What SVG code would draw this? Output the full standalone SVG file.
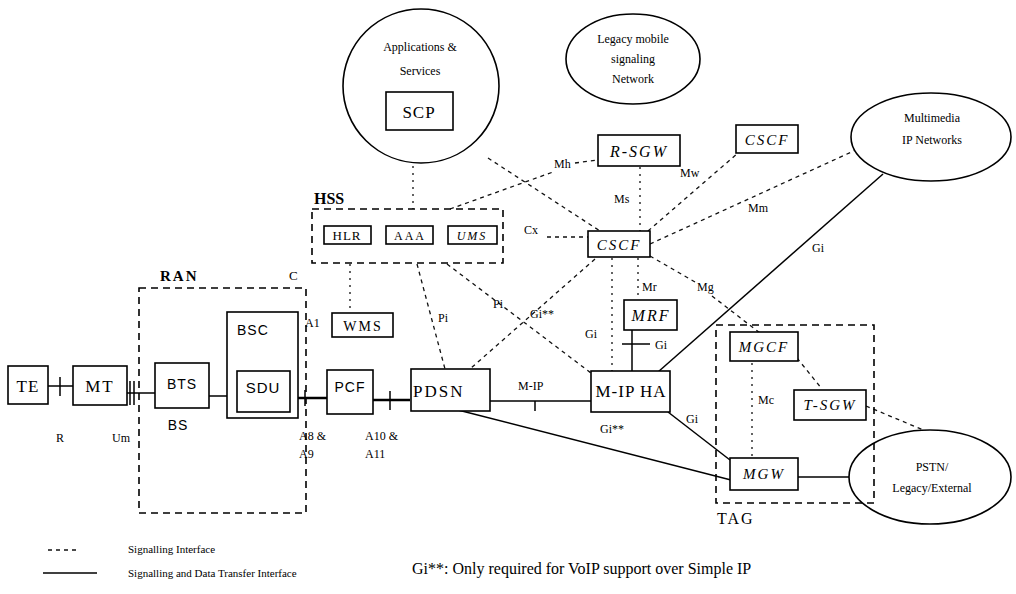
<svg xmlns="http://www.w3.org/2000/svg" width="1016" height="594" viewBox="0 0 1016 594">
<style>
.bg{fill:#fff}
.box{fill:#fff;stroke:#000;stroke-width:1.6}
.ell{fill:#fff;stroke:#000;stroke-width:1.6}
.grp{fill:none;stroke:#000;stroke-width:1.6;stroke-dasharray:7 5}
.sig{fill:none;stroke:#111;stroke-width:1.3;stroke-dasharray:4 4}
.dot{fill:none;stroke:#111;stroke-width:1.3;stroke-dasharray:2 5}
.dat{fill:none;stroke:#000;stroke-width:1.5}
.thk{fill:none;stroke:#000;stroke-width:2.6}
.s{font-family:"Liberation Serif",serif;fill:#000}
.a{font-family:"Liberation Sans",sans-serif;fill:#000}
.i{font-family:"Liberation Serif",serif;font-style:italic;fill:#000}
.lb{font-family:"Liberation Serif",serif;font-size:12px;fill:#000}
</style>
<rect class="bg" x="0" y="0" width="1016" height="594"/>

<g id="connectors">
  <line class="dot" x1="413" y1="166" x2="413" y2="209"/>
  <line class="sig" x1="488" y1="158" x2="600" y2="231"/>
  <line class="sig" x1="450" y1="209" x2="553" y2="172"/>
  <line class="sig" x1="575" y1="163" x2="598" y2="160"/>
  <line class="dot" x1="640" y1="167" x2="640" y2="231"/>
  <line class="sig" x1="648" y1="231" x2="738" y2="153"/>
  <line class="sig" x1="650" y1="244" x2="858" y2="149"/>
  <line class="sig" x1="547" y1="237" x2="588" y2="237"/>
  <line class="sig" x1="650" y1="256" x2="695" y2="282"/>
  <line class="sig" x1="712" y1="296" x2="760" y2="333"/>
  <line class="dot" x1="638" y1="258" x2="638" y2="300"/>
  <line class="dot" x1="612" y1="258" x2="612" y2="371"/>
  <line class="sig" x1="595" y1="259" x2="470" y2="369"/>
  <line class="dot" x1="350" y1="264" x2="350" y2="313"/>
  <line class="sig" x1="417" y1="264" x2="445" y2="369"/>
  <line class="sig" x1="447" y1="264" x2="591" y2="373"/>
  <line class="sig" x1="797" y1="358" x2="822" y2="389"/>
  <line class="dot" x1="752" y1="363" x2="752" y2="458"/>
  <line class="sig" x1="866" y1="406" x2="928" y2="432"/>
  <line class="dat" x1="48" y1="386" x2="73" y2="386"/>
  <line class="dat" x1="60" y1="377" x2="60" y2="396"/>
  <line class="dat" x1="127" y1="393" x2="155" y2="393"/>
  <line class="dat" x1="130" y1="381" x2="130" y2="405"/>
  <line class="dat" x1="134" y1="381" x2="134" y2="405"/>
  <line class="dat" x1="209" y1="396" x2="237" y2="396"/>
  <line class="thk" x1="290" y1="398" x2="327" y2="398"/>
  <line class="dat" x1="305" y1="390" x2="305" y2="406"/>
  <line class="thk" x1="373" y1="400" x2="410" y2="400"/>
  <line class="dat" x1="390" y1="391" x2="390" y2="410"/>
  <line class="dat" x1="490" y1="401" x2="591" y2="401"/>
  <line class="dat" x1="535" y1="401" x2="535" y2="411"/>
  <line class="dat" x1="632" y1="330" x2="632" y2="371"/>
  <line class="dat" x1="622" y1="344" x2="650" y2="344"/>
  <line class="dat" x1="883" y1="174" x2="658" y2="372"/>
  <line class="dat" x1="668" y1="412" x2="730" y2="460"/>
  <line class="dat" x1="458" y1="410" x2="731" y2="480"/>
  <line class="dat" x1="798" y1="477" x2="852" y2="477"/>
  <text class="lb" x="554" y="168">Mh</text>
  <text class="lb" x="614" y="203">Ms</text>
  <text class="lb" x="680" y="177">Mw</text>
  <text class="lb" x="748" y="212">Mm</text>
  <text class="lb" x="524" y="234">Cx</text>
  <text class="lb" x="697" y="291">Mg</text>
  <text class="lb" x="642" y="291">Mr</text>
  <text class="lb" x="585" y="338">Gi</text>
  <text class="lb" x="530" y="318">Gi**</text>
  <text class="lb" x="438" y="322">Pi</text>
  <text class="lb" x="493" y="308">Pi</text>
  <text class="lb" x="655" y="349">Gi</text>
  <text class="lb" x="812" y="252">Gi</text>
  <text class="lb" x="686" y="423">Gi</text>
  <text class="lb" x="600" y="433">Gi**</text>
  <text class="lb" x="758" y="404">Mc</text>
  <text class="lb" x="518" y="390" font-size="13">M-IP</text>
  <text class="lb" x="56" y="442">R</text>
  <text class="lb" x="112" y="442">Um</text>
  <text class="lb" x="305" y="327">A1</text>
  <text class="lb" x="299" y="440" font-size="13">A8 &amp;</text>
  <text class="lb" x="299" y="458" font-size="13">A9</text>
  <text class="lb" x="365" y="440" font-size="13">A10 &amp;</text>
  <text class="lb" x="365" y="458" font-size="13">A11</text>
</g>

<g id="apps">
  <ellipse class="ell" cx="421" cy="86" rx="78" ry="77"/>
  <text class="s" x="420" y="51" font-size="12" text-anchor="middle">Applications &amp;</text>
  <text class="s" x="420" y="75" font-size="12" text-anchor="middle">Services</text>
</g>
<g id="scp">
  <rect class="box" x="386" y="92" width="67" height="38"/>
  <text class="s" x="419" y="118" font-size="17" text-anchor="middle" letter-spacing="1">SCP</text>
</g>
<g id="legacy">
  <ellipse class="ell" cx="633" cy="59" rx="67" ry="45"/>
  <text class="s" x="633" y="43" font-size="12" text-anchor="middle">Legacy mobile</text>
  <text class="s" x="633" y="63" font-size="12" text-anchor="middle">signaling</text>
  <text class="s" x="633" y="83" font-size="12" text-anchor="middle">Network</text>
</g>
<g id="multimedia">
  <ellipse class="ell" cx="931" cy="137" rx="80" ry="44"/>
  <text class="s" x="932" y="122" font-size="12" text-anchor="middle">Multimedia</text>
  <text class="s" x="932" y="144" font-size="12" text-anchor="middle">IP Networks</text>
</g>
<g id="pstn">
  <ellipse class="ell" cx="930" cy="477" rx="81" ry="47"/>
  <text class="s" x="932" y="471" font-size="12" text-anchor="middle">PSTN/</text>
  <text class="s" x="932" y="492" font-size="12" text-anchor="middle">Legacy/External</text>
</g>
<g id="rsgw">
  <rect class="box" x="598" y="135" width="82" height="31"/>
  <text class="i" x="639" y="157" font-size="16" text-anchor="middle" letter-spacing="2">R-SGW</text>
</g>
<g id="cscf-top">
  <rect class="box" x="736" y="125" width="62" height="28"/>
  <text class="i" x="767" y="145" font-size="15" text-anchor="middle" letter-spacing="2">CSCF</text>
</g>
<g id="cscf">
  <rect class="box" x="588" y="231" width="62" height="26"/>
  <text class="i" x="619" y="250" font-size="15" text-anchor="middle" letter-spacing="2">CSCF</text>
</g>
<g id="hss">
  <rect class="grp" x="312" y="209" width="191" height="54"/>
  <text class="s" x="314" y="204" font-size="16" font-weight="bold">HSS</text>
</g>
<g id="hlr">
  <rect class="box" x="324" y="226" width="47" height="18"/>
  <text class="s" x="347" y="240" font-size="13" text-anchor="middle" letter-spacing="1">HLR</text>
</g>
<g id="aaa">
  <rect class="box" x="386" y="226" width="47" height="18"/>
  <text class="s" x="410" y="240" font-size="12" text-anchor="middle" letter-spacing="2">AAA</text>
</g>
<g id="ums">
  <rect class="box" x="448" y="226" width="49" height="18"/>
  <text class="i" x="472" y="240" font-size="12" text-anchor="middle" letter-spacing="2">UMS</text>
</g>
<g id="wms">
  <rect class="box" x="332" y="313" width="61" height="24"/>
  <text class="s" x="363" y="331" font-size="14" text-anchor="middle" letter-spacing="2">WMS</text>
</g>
<g id="ran">
  <rect class="grp" x="139" y="288" width="167" height="225"/>
  <text class="s" x="160" y="281" font-size="15" font-weight="bold" letter-spacing="2">RAN</text>
  <text class="s" x="289" y="280" font-size="13">C</text>
</g>
<g id="te">
  <rect class="box" x="8" y="366" width="40" height="38"/>
  <text class="s" x="28" y="392" font-size="17" text-anchor="middle" letter-spacing="1">TE</text>
</g>
<g id="mt">
  <rect class="box" x="73" y="366" width="54" height="39"/>
  <text class="s" x="100" y="392" font-size="17" text-anchor="middle" letter-spacing="2">MT</text>
</g>
<g id="bts">
  <rect class="box" x="155" y="363" width="54" height="45"/>
  <text class="a" x="182" y="389" font-size="14" text-anchor="middle" letter-spacing="1">BTS</text>
  <text class="a" x="178" y="430" font-size="14" text-anchor="middle" letter-spacing="1">BS</text>
</g>
<g id="bsc">
  <rect class="box" x="227" y="312" width="71" height="106"/>
  <text class="a" x="237" y="335" font-size="14" letter-spacing="1">BSC</text>
</g>
<g id="sdu">
  <rect class="box" x="237" y="371" width="53" height="41"/>
  <text class="a" x="263" y="393" font-size="15" text-anchor="middle" letter-spacing="1">SDU</text>
</g>
<g id="pcf">
  <rect class="box" x="327" y="370" width="46" height="44"/>
  <text class="a" x="350" y="392" font-size="14" text-anchor="middle" letter-spacing="1">PCF</text>
</g>
<g id="pdsn">
  <rect class="box" x="411" y="369" width="79" height="42"/>
  <text class="s" x="413" y="397" font-size="17" letter-spacing="2">PDSN</text>
</g>
<g id="mipha">
  <rect class="box" x="591" y="371" width="79" height="41"/>
  <text class="s" x="631" y="397" font-size="17" text-anchor="middle" letter-spacing="1">M-IP HA</text>
</g>
<g id="mrf">
  <rect class="box" x="624" y="300" width="53" height="30"/>
  <text class="i" x="651" y="321" font-size="16" text-anchor="middle" letter-spacing="2">MRF</text>
</g>
<g id="tag">
  <rect class="grp" x="716" y="325" width="158" height="178"/>
  <text class="s" x="717" y="524" font-size="16" letter-spacing="2">TAG</text>
</g>
<g id="mgcf">
  <rect class="box" x="730" y="332" width="68" height="29"/>
  <text class="i" x="764" y="352" font-size="15" text-anchor="middle" letter-spacing="2">MGCF</text>
</g>
<g id="tsgw">
  <rect class="box" x="794" y="390" width="72" height="30"/>
  <text class="i" x="830" y="410" font-size="15" text-anchor="middle" letter-spacing="2">T-SGW</text>
</g>
<g id="mgw">
  <rect class="box" x="730" y="458" width="68" height="32"/>
  <text class="i" x="764" y="479" font-size="15" text-anchor="middle" letter-spacing="2">MGW</text>
</g>
<g id="legend">
  <line class="sig" x1="48" y1="550" x2="78" y2="550"/>
  <line class="dat" x1="43" y1="573" x2="97" y2="573"/>
  <text class="s" x="128" y="553" font-size="11">Signalling Interface</text>
  <text class="s" x="128" y="577" font-size="11">Signalling and Data Transfer Interface</text>
  <text class="s" x="412" y="574" font-size="16">Gi**: Only required for VoIP support over Simple IP</text>
</g>
</svg>
